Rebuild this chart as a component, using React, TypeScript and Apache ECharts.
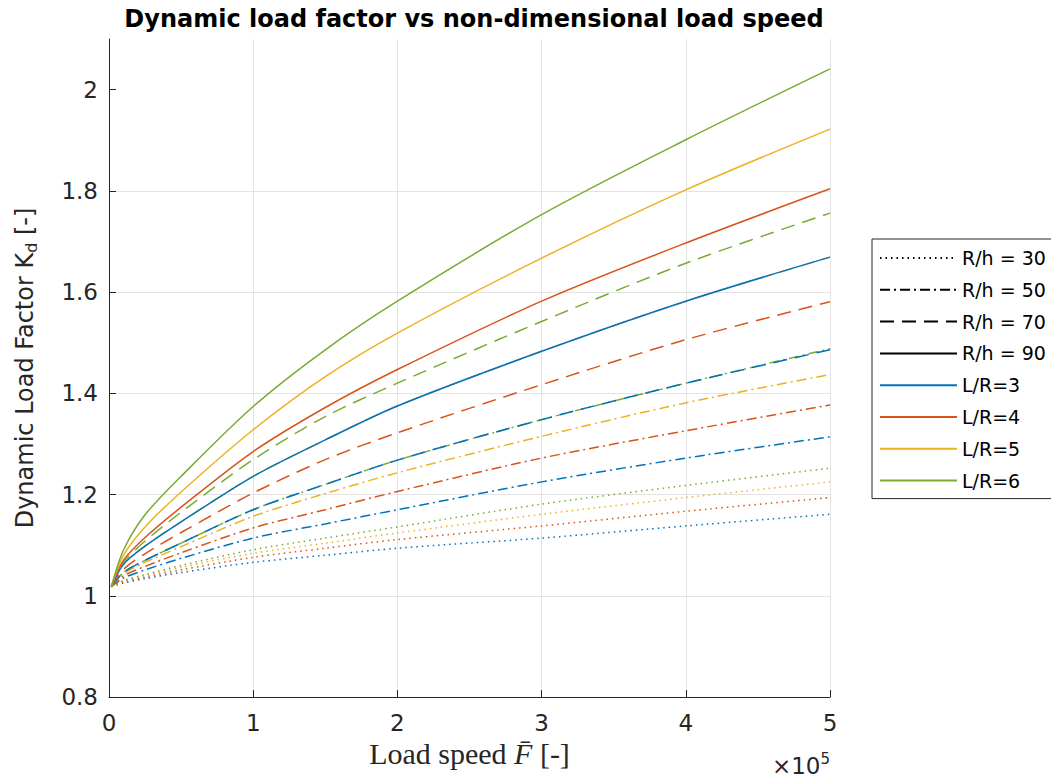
import React, { useEffect, useRef } from 'react';
import * as echarts from 'echarts';

// Load speed samples (F̄)
const xValues = [1600, 10000, 25000, 50000, 100000, 150000, 200000, 300000, 400000, 500000];
const rhValues = [30, 50, 70, 90];
const lrValues = [3, 4, 5, 6];
const yTickValues = [0.8, 1, 1.2, 1.4, 1.6, 1.8, 2];
const xTickValues = [0, 100000, 200000, 300000, 400000, 500000];

// R/h = 30
const kdRh30Lr3 = [1.018, 1.025, 1.034, 1.046, 1.066, 1.080, 1.094, 1.114, 1.138, 1.161];
const kdRh30Lr4 = [1.018, 1.027, 1.037, 1.051, 1.076, 1.094, 1.111, 1.138, 1.167, 1.194];
const kdRh30Lr5 = [1.018, 1.029, 1.040, 1.056, 1.084, 1.104, 1.124, 1.161, 1.194, 1.225];
const kdRh30Lr6 = [1.018, 1.030, 1.042, 1.060, 1.091, 1.114, 1.136, 1.181, 1.218, 1.252];
// R/h = 50
const kdRh50Lr3 = [1.018, 1.035, 1.051, 1.074, 1.114, 1.142, 1.170, 1.225, 1.272, 1.314];
const kdRh50Lr4 = [1.018, 1.039, 1.058, 1.085, 1.134, 1.170, 1.206, 1.272, 1.326, 1.377];
const kdRh50Lr5 = [1.018, 1.043, 1.066, 1.097, 1.157, 1.202, 1.243, 1.315, 1.381, 1.437];
const kdRh50Lr6 = [1.018, 1.046, 1.070, 1.104, 1.170, 1.220, 1.268, 1.348, 1.420, 1.488];
// R/h = 70
const kdRh70Lr3 = [1.018, 1.046, 1.070, 1.104, 1.170, 1.220, 1.268, 1.348, 1.420, 1.486];
const kdRh70Lr4 = [1.018, 1.052, 1.083, 1.125, 1.203, 1.269, 1.322, 1.417, 1.506, 1.581];
const kdRh70Lr5 = [1.018, 1.062, 1.098, 1.146, 1.236, 1.308, 1.375, 1.483, 1.582, 1.669];
const kdRh70Lr6 = [1.018, 1.066, 1.108, 1.165, 1.269, 1.354, 1.420, 1.542, 1.657, 1.756];
// R/h = 90
const kdRh90Lr3 = [1.018, 1.062, 1.098, 1.146, 1.236, 1.308, 1.375, 1.483, 1.582, 1.669];
const kdRh90Lr4 = [1.018, 1.070, 1.115, 1.175, 1.285, 1.372, 1.447, 1.582, 1.697, 1.804];
const kdRh90Lr5 = [1.018, 1.080, 1.136, 1.205, 1.328, 1.433, 1.519, 1.667, 1.802, 1.922];
const kdRh90Lr6 = [1.018, 1.090, 1.160, 1.236, 1.374, 1.486, 1.582, 1.753, 1.901, 2.041];

const kdTable: number[][][] = [
  [kdRh30Lr3, kdRh30Lr4, kdRh30Lr5, kdRh30Lr6],
  [kdRh50Lr3, kdRh50Lr4, kdRh50Lr5, kdRh50Lr6],
  [kdRh70Lr3, kdRh70Lr4, kdRh70Lr5, kdRh70Lr6],
  [kdRh90Lr3, kdRh90Lr4, kdRh90Lr5, kdRh90Lr6],
];

const COLORS = ['#0072BD', '#D95319', '#EDB120', '#77AC30'];
const DASHES: any[] = [[1.5, 4], [10, 4, 2, 4], [14, 8], 'solid'];
const TEXT = '#262626';
const SANS = 'DejaVu Sans';

export default function App() {
  const ref = useRef<HTMLDivElement>(null);
  useEffect(() => {
    document.body.style.margin = '0';
    if (!ref.current) return;
    const chart = echarts.init(ref.current, undefined, { renderer: 'svg' });

    const series: any[] = [];
    rhValues.forEach((rh, ri) => {
      lrValues.forEach((lr, li) => {
        series.push({
          type: 'line',
          name: `R/h = ${rh}, L/R=${lr}`,
          data: xValues.map((x, i) => [x, kdTable[ri][li][i]]),
          symbol: 'none',
          showSymbol: false,
          smooth: 0.3,
          silent: true,
          lineStyle: { color: COLORS[li], width: 1.5, type: DASHES[ri] },
          itemStyle: { color: COLORS[li] },
        });
      });
    });
    const legendNames: string[] = [];
    rhValues.forEach((rh, ri) => {
      const name = `R/h = ${rh}`;
      legendNames.push(name);
      series.push({
        type: 'line', name, data: [], symbol: 'none',
        lineStyle: { color: '#000', width: 1.2, type: DASHES[ri] },
        itemStyle: { color: '#000' },
      });
    });
    lrValues.forEach((lr, li) => {
      const name = `L/R=${lr}`;
      legendNames.push(name);
      series.push({
        type: 'line', name, data: [], symbol: 'none',
        lineStyle: { color: COLORS[li], width: 1.5, type: 'solid' },
        itemStyle: { color: COLORS[li] },
      });
    });

    chart.setOption({
      animation: false,
      backgroundColor: '#fff',
      title: {
        text: 'Dynamic load factor vs non-dimensional load speed',
        left: 469,
        top: 2,
        textAlign: 'center',
        textStyle: { fontFamily: SANS, fontWeight: 'bold', fontSize: 24, color: '#000' },
      },
      grid: { left: 109, right: 221, top: 39, bottom: 83, containLabel: false, outerBoundsMode: 'none' },
      legend: {
        data: legendNames,
        orient: 'vertical',
        left: 872,
        top: 239,
        itemWidth: 77,
        itemHeight: 20,
        itemGap: 11.8,
        padding: [9, 14, 8, 7],
        borderColor: TEXT,
        borderWidth: 1,
        backgroundColor: '#fff',
        selectedMode: false,
        itemStyle: { opacity: 0, color: 'rgba(0,0,0,0)', borderWidth: 0 },
        textStyle: { fontFamily: SANS, fontSize: 19, color: '#000', lineHeight: 20 },
      },
      xAxis: {
        type: 'value',
        min: 0,
        max: 500000,
        interval: 100000,
        name: 'Load speed {it|F\u0304} [-]',
        nameLocation: 'middle',
        nameGap: 41,
        nameTextStyle: {
          fontFamily: 'Liberation Serif',
          fontSize: 30,
          color: TEXT,
          rich: { it: { fontFamily: 'Liberation Serif', fontStyle: 'italic', fontSize: 30, color: TEXT } },
        },
        axisLine: { show: true, lineStyle: { color: TEXT, width: 1 } },
        axisTick: { show: true, inside: true, length: 7, lineStyle: { color: TEXT }, customValues: xTickValues },
        axisLabel: {
          customValues: xTickValues,
          formatter: (v: number) => String(Math.round(v / 100000)),
          fontFamily: SANS, fontSize: 23, color: TEXT, margin: 14,
        },
        splitLine: { show: true, lineStyle: { color: '#e3e3e3', width: 1 } },
      },
      yAxis: {
        type: 'value',
        min: 0.8,
        max: 2.1,
        interval: 0.2,
        name: 'Dynamic Load Factor K{sub|d} [-]',
        nameLocation: 'middle',
        nameRotate: 90,
        nameGap: 70,
        nameTextStyle: {
          fontFamily: SANS,
          fontSize: 24,
          color: TEXT,
          rich: { sub: { fontFamily: SANS, fontSize: 16, color: TEXT, padding: [12, 0, 0, 0] } },
        },
        axisLine: { show: true, lineStyle: { color: TEXT, width: 1 } },
        axisTick: { show: true, inside: true, length: 7, lineStyle: { color: TEXT }, customValues: yTickValues },
        axisLabel: {
          customValues: yTickValues,
          formatter: (v: number) => (v > 2.05 ? '' : String(Math.round(v * 10) / 10)),
          fontFamily: SANS, fontSize: 23, color: TEXT, margin: 11,
        },
        splitLine: { show: true, showMaxLine: false, lineStyle: { color: '#e3e3e3', width: 1 } },
      },
      graphic: [
        {
          type: 'text',
          x: 830,
          y: 766,
          style: {
            text: '\u00d710{sup|5}',
            align: 'right',
            verticalAlign: 'middle',
            fontFamily: SANS,
            fontSize: 23,
            fill: TEXT,
            rich: { sup: { fontFamily: SANS, fontSize: 15, fill: TEXT, padding: [0, 0, 14, 0] } },
          },
        },
      ],
      series,
    });
    return () => chart.dispose();
  }, []);
  return <div ref={ref} style={{ width: 1051, height: 780 }} />;
}
